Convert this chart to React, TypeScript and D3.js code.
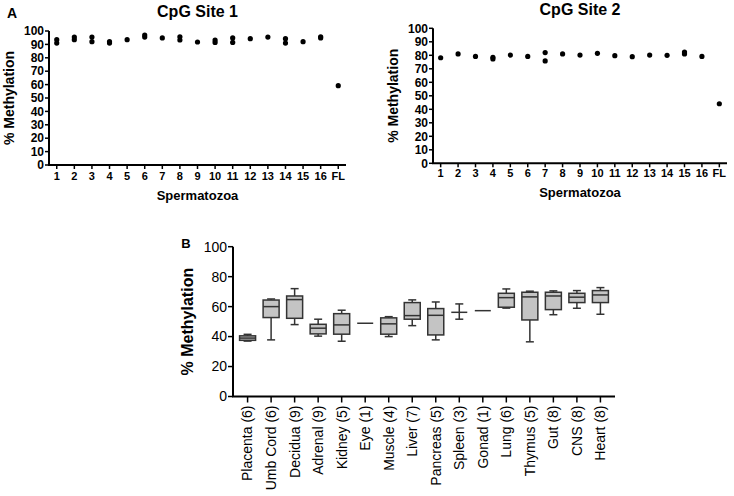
import React from "react";
import * as d3 from "d3";

const spermLabels = ["1","2","3","4","5","6","7","8","9","10","11","12","13","14","15","16","FL"];
const site1Values: number[][] = [
  [93.5, 91], [95.5, 93.5], [95.5, 92], [92, 91], [93.5], [97, 95.5], [94.8], [95.7, 93.3],
  [91.8], [93.3, 91.5], [94.8, 91.5], [94.3], [95.5], [94.3, 91], [92], [95.7, 94.8], [59.2],
];
const site2Values: number[][] = [
  [78.2], [81], [79.2], [78.5, 77.3], [80.2], [79.2], [82, 75.8], [81],
  [80.2], [81.5], [79.7], [79], [80.2], [80], [82.4, 81], [79.2], [44.1],
];
const aTicks = [0,10,20,30,40,50,60,70,80,90,100];

const tissues = ["Placenta (6)","Umb Cord (6)","Decidua (9)","Adrenal (9)","Kidney (5)","Eye (1)","Muscle (4)","Liver (7)","Pancreas (5)","Spleen (3)","Gonad (1)","Lung (6)","Thymus (5)","Gut (8)","CNS (8)","Heart (8)"];
const boxMin =    [37,   37.8, 48,   40.3, 36.9, 48.9, 40,   47.3, 37.8, 51.6, 57.3, 59,   36.5, 54.6, 58.9, 54.9];
const boxQ1 =     [37.5, 52.7, 52.2, 41.8, 41.6, 48.9, 41.6, 51.6, 41.1, 56.2, 57.3, 59.6, 51.1, 58,   62.7, 62.7];
const boxMedian = [39,   60,   64.7, 45.6, 47.8, 48.9, 48.5, 54,   54.2, 56.2, 57.3, 66,   66.5, 67.1, 66.3, 67.8];
const boxQ3 =     [40.5, 64.4, 67.1, 48.2, 55.3, 48.9, 52.5, 62.7, 58.7, 56.2, 57.3, 68.9, 69.6, 69.6, 68.9, 70.7];
const boxMax =    [41.5, 65.1, 72,   51.6, 57.6, 48.9, 53.3, 64.5, 63.1, 61.8, 57.3, 71.8, 70.3, 70.5, 70.7, 72.7];
const bTicks = [0,20,40,60,80,100];

const FONT = "'Liberation Sans', Arial, Helvetica, sans-serif";

function DotPanel({ title, values, x0, x1, yTop, yBot, tickLabelY, titleY, xTitleY, yLabelX }: any) {
  const x = d3.scalePoint<string>().domain(spermLabels).range([x0, x1]).padding(0.44);
  const y = d3.scaleLinear().domain([0, 100]).range([yBot, yTop]);
  return (
    <g fontFamily={FONT} fontWeight="bold">
      <text x={(x0 + x1) / 2} y={titleY} textAnchor="middle" fontSize={16}>{title}</text>
      <line x1={x0} x2={x0} y1={yTop} y2={yBot} stroke="#000" strokeWidth={2} />
      <line x1={x0 - 1} x2={x1} y1={yBot} y2={yBot} stroke="#000" strokeWidth={2} />
      {aTicks.map(t => (
        <g key={t}>
          <line x1={x0 - 4} x2={x0} y1={y(t)} y2={y(t)} stroke="#000" strokeWidth={1.5} />
          <text x={x0 - 5} y={y(t)} dy="0.35em" textAnchor="end" fontSize={12}>{t}</text>
        </g>
      ))}
      {spermLabels.map(l => (
        <g key={l}>
          <line x1={x(l)!} x2={x(l)!} y1={yBot} y2={yBot + 4} stroke="#000" strokeWidth={1.5} />
          <text x={x(l)!} y={tickLabelY} textAnchor="middle" fontSize={11}>{l}</text>
        </g>
      ))}
      <text x={(x0 + x1) / 2} y={xTitleY} textAnchor="middle" fontSize={13}>Spermatozoa</text>
      <text transform={`translate(${yLabelX},${(yTop + yBot) / 2}) rotate(-90)`} textAnchor="middle" fontSize={14}>% Methylation</text>
      {values.map((vs: number[], i: number) =>
        vs.map((v, j) => <circle key={i + "-" + j} cx={x(spermLabels[i])!} cy={y(v)} r={2.6} fill="#000" />)
      )}
    </g>
  );
}

function BoxPanel() {
  const x0 = 233, x1 = 615, yTop = 246.7, yBot = 396.5;
  const x = d3.scalePoint<string>().domain(tissues).range([x0, x1]).padding(0.62);
  const y = d3.scaleLinear().domain([0, 100]).range([yBot, yTop]);
  const bw = 16, cw = 8;
  return (
    <g fontFamily={FONT}>
      <text x={186} y={248} textAnchor="middle" fontSize={13} fontWeight="bold">B</text>
      <line x1={x0} x2={x0} y1={yTop} y2={yBot} stroke="#000" strokeWidth={2} />
      <line x1={x0 - 1} x2={x1} y1={yBot} y2={yBot} stroke="#000" strokeWidth={2} />
      {bTicks.map(t => (
        <g key={t}>
          <line x1={x0 - 5} x2={x0} y1={y(t)} y2={y(t)} stroke="#000" strokeWidth={1.5} />
          <text x={x0 - 6} y={y(t)} dy="0.35em" textAnchor="end" fontSize={14}>{t}</text>
        </g>
      ))}
      {tissues.map((t, i) => {
        const cx = x(t)!;
        return (
          <g key={t}>
            <line x1={cx} x2={cx} y1={yBot} y2={yBot + 6} stroke="#000" strokeWidth={1.5} />
            <text transform={`translate(${cx},${yBot + 9}) rotate(-90)`} dy="0.35em" textAnchor="end" fontSize={14}>{t}</text>
            {boxMax[i] > boxQ3[i] && <line x1={cx} x2={cx} y1={y(boxMax[i])} y2={y(boxQ3[i])} stroke="#333" strokeWidth={1.5} />}
            {boxMax[i] > boxQ3[i] && <line x1={cx - cw / 2} x2={cx + cw / 2} y1={y(boxMax[i])} y2={y(boxMax[i])} stroke="#333" strokeWidth={1.5} />}
            {boxQ1[i] > boxMin[i] && <line x1={cx} x2={cx} y1={y(boxQ1[i])} y2={y(boxMin[i])} stroke="#333" strokeWidth={1.5} />}
            {boxQ1[i] > boxMin[i] && <line x1={cx - cw / 2} x2={cx + cw / 2} y1={y(boxMin[i])} y2={y(boxMin[i])} stroke="#333" strokeWidth={1.5} />}
            {boxQ3[i] > boxQ1[i] && (
              <rect x={cx - bw / 2} y={y(boxQ3[i])} width={bw} height={y(boxQ1[i]) - y(boxQ3[i])} fill="#c4c4c4" stroke="#333" strokeWidth={1.5} />
            )}
            <line x1={cx - bw / 2} x2={cx + bw / 2} y1={y(boxMedian[i])} y2={y(boxMedian[i])} stroke="#333" strokeWidth={1.5} />
          </g>
        );
      })}
      <text transform={`translate(193,${(yTop + yBot) / 2}) rotate(-90)`} textAnchor="middle" fontSize={16} fontWeight="bold">% Methylation</text>
    </g>
  );
}

export default function App() {
  return (
    <svg width={734} height={496} style={{ position: "absolute", left: 0, top: 0, background: "#fff" }}>
      <text x={7} y={18} fontFamily={FONT} fontWeight="bold" fontSize={14}>A</text>
      <DotPanel title="CpG Site 1" values={site1Values} x0={49} x1={346} yTop={31} yBot={165}
        tickLabelY={180} titleY={17} xTitleY={200} yLabelX={14} />
      <DotPanel title="CpG Site 2" values={site2Values} x0={433} x1={727} yTop={28.3} yBot={163.3}
        tickLabelY={177} titleY={15} xTitleY={197} yLabelX={398} />
      <BoxPanel />
    </svg>
  );
}
